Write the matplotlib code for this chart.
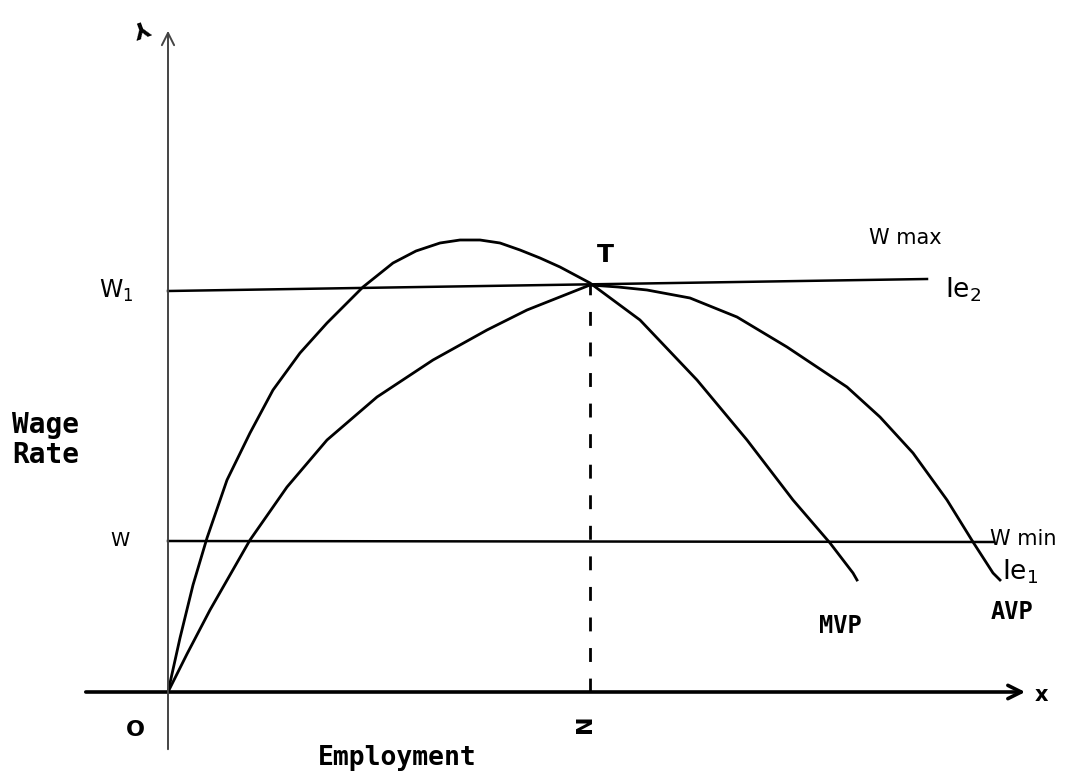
import numpy as np
import matplotlib.pyplot as plt

# employment (x) and wage (y) readings, origin at O
mvp_x = [0, 12, 25, 39, 59, 82, 105, 132, 159, 195, 225, 248, 272, 292, 312,
         332, 352, 372, 392, 422, 472, 529, 579, 625, 662, 685, 689]
mvp_y = [0, 54, 107, 154, 212, 259, 302, 339, 369, 405, 429, 441, 449, 452, 452,
         449, 442, 434, 425, 409, 372, 312, 252, 192, 149, 119, 112]

avp_x = [0, 19, 42, 82, 119, 159, 209, 265, 319, 359, 422, 450, 479, 522, 569,
         619, 679, 712, 745, 779, 805, 825, 832]
avp_y = [0, 38, 82, 152, 205, 252, 295, 332, 362, 382, 407, 405, 402, 394, 375,
         345, 305, 275, 239, 192, 150, 119, 112]

w1_x, w1_y = [0, 759], [401, 413]   # W1 / Wmax line
w0_x, w0_y = [0, 825], [151, 150]   # W / Wmin line
n_emp, t_wage = 422, 409            # point T

fig = plt.figure(figsize=(10.89, 7.79), dpi=100)
ax = fig.add_axes([0, 0, 1, 1])
ax.set_xlim(-168, 921)
ax.set_ylim(-87, 692)
ax.axis('off')

lw = 2.0
# axes
ax.annotate('', xy=(860, 0), xytext=(-85, 0),
            arrowprops=dict(arrowstyle='->', lw=2.6, color='black', mutation_scale=24))
ax.annotate('', xy=(0, 664), xytext=(0, -60),
            arrowprops=dict(arrowstyle='->', lw=1.4, color='#444444', mutation_scale=22))

# curves
ax.plot(mvp_x, mvp_y, color='black', lw=lw, solid_joinstyle='round')
ax.plot(avp_x, avp_y, color='black', lw=lw, solid_joinstyle='round')

# wage lines
ax.plot(w1_x, w1_y, color='black', lw=1.8)
ax.plot(w0_x, w0_y, color='black', lw=1.8)
ax.plot([n_emp, n_emp], [0, t_wage], color='black', lw=2.0, ls=(0, (5, 6)))

hand = dict(family='DejaVu Sans', color='black')
typ = dict(family='DejaVu Sans Mono', fontweight='bold', color='black')

ax.text(-26, 666, 'Y', fontsize=16, fontweight='bold', rotation=200, ha='center', va='center', **hand)
ax.text(-52, 401, r'$\mathregular{W_1}$', fontsize=17, ha='center', va='center', **hand)
ax.text(-48, 152, 'W', fontsize=14, ha='center', va='center', **hand)
ax.text(437, 437, 'T', fontsize=18, fontweight='bold', ha='center', va='center', **hand)
ax.text(737, 454, 'W max', fontsize=15, ha='center', va='center', **hand)
ax.text(795, 402, r'$\mathregular{Ie_2}$', fontsize=19, ha='center', va='center', **hand)
ax.text(822, 153, 'W min', fontsize=15, ha='left', va='center', **hand)
ax.text(834, 120, r'$\mathregular{Ie_1}$', fontsize=19, ha='left', va='center', **hand)
ax.text(672, 66, 'MVP', fontsize=17, ha='center', va='center', **typ)
ax.text(844, 80, 'AVP', fontsize=17, ha='center', va='center', **typ)
ax.text(-156, 252, 'Wage\nRate', fontsize=20, ha='left', va='center', linespacing=1.05, **typ)
ax.text(-33, -38, 'O', fontsize=16, fontweight='bold', ha='center', va='center', **hand)
ax.text(417, -32, 'N', fontsize=16, fontweight='bold', rotation=90, ha='center', va='center', **hand)
ax.text(229, -66, 'Employment', fontsize=19, ha='center', va='center', **typ)
ax.text(873, -3, 'x', fontsize=15, fontweight='bold', ha='center', va='center', **hand)

fig.savefig('out.png', dpi=100, facecolor='white')
